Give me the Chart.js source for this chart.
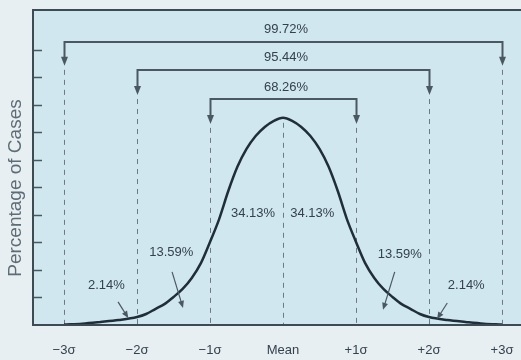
<!DOCTYPE html>
<html>
<head>
<meta charset="utf-8">
<script src="https://cdn.jsdelivr.net/npm/chart.js@4"></script>
<style>
  html, body { margin: 0; padding: 0; background: #e8eff3; }
  #wrap { width: 521px; height: 360px; }
</style>
</head>
<body>
<div id="wrap"><canvas id="myChart" width="521" height="360"></canvas></div>
<script>
// curve: position in sigma, height in tick units
const sigmaPos = [-3, -2.75, -2.5, -2.25, -2, -1.875, -1.75, -1.625, -1.5, -1.375, -1.25, -1.125,
  -1, -0.875, -0.75, -0.625, -0.5, -0.375, -0.25, -0.125, 0,
  0.125, 0.25, 0.375, 0.5, 0.625, 0.75, 0.875, 1,
  1.125, 1.25, 1.375, 1.5, 1.625, 1.75, 1.875, 2, 2.25, 2.5, 2.75, 3];
const curveHeight = [0.02, 0.05, 0.11, 0.18, 0.29, 0.40, 0.58, 0.76, 1.02, 1.31, 1.71, 2.25,
  3.02, 3.85, 4.87, 5.75, 6.40, 6.87, 7.20, 7.42, 7.53,
  7.42, 7.20, 6.87, 6.40, 5.75, 4.87, 3.85, 3.02,
  2.25, 1.71, 1.31, 1.02, 0.76, 0.58, 0.40, 0.29, 0.18, 0.11, 0.05, 0.02];

const tickValues = [-3, -2, -1, 0, 1, 2, 3];
const tickLabels = ["\u22123\u03c3", "\u22122\u03c3", "\u22121\u03c3", "Mean", "+1\u03c3", "+2\u03c3", "+3\u03c3"];
const yTickValues = [1, 2, 3, 4, 5, 6, 7, 8, 9, 10];

const rangeSigma = [3, 2, 1];
const rangeLabels = ["99.72%", "95.44%", "68.26%"];
const bandLabels = ["2.14%", "13.59%", "34.13%", "34.13%", "13.59%", "2.14%"];

// where the annotations sit (data units)
const rangeLayout = [
  { bar: 10.29, tip: 9.42, label: 10.76 },
  { bar: 9.27, tip: 8.36, label: 9.71 },
  { bar: 8.22, tip: 7.31, label: 8.65 },
];
const bandLayout = [
  { x: -2.42, y: 1.45, arrow: [-2.26, 0.84, -2.12, 0.25] },
  { x: -1.53, y: 2.62, arrow: [-1.52, 1.93, -1.37, 0.62] },
  { x: -0.41, y: 4.07 },
  { x: 0.40, y: 4.07 },
  { x: 1.60, y: 2.55, arrow: [1.53, 1.93, 1.37, 0.55] },
  { x: 2.51, y: 1.45, arrow: [2.25, 0.80, 2.11, 0.22] },
];

const FONT = '"Liberation Sans", Arial, sans-serif';
const INK = "#34424c";
const LINE = "#4a5862";

function arrowHead(ctx, x, y, angle, len, half) {
  ctx.save();
  ctx.translate(x, y);
  ctx.rotate(angle);
  ctx.beginPath();
  ctx.moveTo(0, 0);
  ctx.lineTo(-len, -half);
  ctx.lineTo(-len, half);
  ctx.closePath();
  ctx.fill();
  ctx.restore();
}

const annot = {
  id: "annot",
  beforeDraw(chart) {
    const { ctx, chartArea: a } = chart;
    ctx.save();
    ctx.fillStyle = "#d0e7f0";
    ctx.fillRect(a.left, a.top, chart.width - a.left, a.bottom - a.top);
    ctx.restore();
  },
  beforeDatasetsDraw(chart) {
    const { ctx, chartArea: a, scales } = chart;
    const xs = scales.x, ys = scales.y;
    ctx.save();
    // y ticks inside the frame
    ctx.strokeStyle = LINE;
    ctx.lineWidth = 1.5;
    yTickValues.forEach((v) => {
      const y = Math.round(ys.getPixelForValue(v)) + 0.5;
      ctx.beginPath();
      ctx.moveTo(a.left, y);
      ctx.lineTo(a.left + 9, y);
      ctx.stroke();
    });
    // dashed verticals
    ctx.strokeStyle = "#6b7b85";
    ctx.lineWidth = 1;
    ctx.setLineDash([5, 5]);
    rangeSigma.forEach((s, i) => {
      [-s, s].forEach((v) => {
        const x = Math.round(xs.getPixelForValue(v)) + 0.5;
        ctx.beginPath();
        ctx.moveTo(x, ys.getPixelForValue(rangeLayout[i].tip) + 4);
        ctx.lineTo(x, a.bottom);
        ctx.stroke();
      });
    });
    const mx = Math.round(xs.getPixelForValue(0)) + 0.5;
    ctx.beginPath();
    ctx.moveTo(mx, ys.getPixelForValue(7.35));
    ctx.lineTo(mx, a.bottom);
    ctx.stroke();
    ctx.restore();
  },
  afterDatasetsDraw(chart) {
    const { ctx, chartArea: a, scales } = chart;
    const xs = scales.x, ys = scales.y;
    ctx.save();
    // brackets
    ctx.strokeStyle = LINE;
    ctx.fillStyle = LINE;
    ctx.lineWidth = 2;
    rangeSigma.forEach((s, i) => {
      const L = rangeLayout[i];
      const x1 = Math.round(xs.getPixelForValue(-s)) + 0.5;
      const x2 = Math.round(xs.getPixelForValue(s)) + 0.5;
      const yb = Math.round(ys.getPixelForValue(L.bar));
      const yt = ys.getPixelForValue(L.tip);
      ctx.beginPath();
      ctx.moveTo(x1, yt - 7);
      ctx.lineTo(x1, yb);
      ctx.lineTo(x2, yb);
      ctx.lineTo(x2, yt - 7);
      ctx.stroke();
      arrowHead(ctx, x1, yt, Math.PI / 2, 9, 3.5);
      arrowHead(ctx, x2, yt, Math.PI / 2, 9, 3.5);
      ctx.font = "13px " + FONT;
      ctx.fillStyle = INK;
      ctx.textAlign = "center";
      ctx.textBaseline = "middle";
      ctx.fillText(rangeLabels[i], xs.getPixelForValue(0) + 3, ys.getPixelForValue(L.label));
      ctx.fillStyle = LINE;
    });
    // band labels and arrows
    bandLabels.forEach((t, i) => {
      const L = bandLayout[i];
      ctx.font = "13px " + FONT;
      ctx.fillStyle = INK;
      ctx.textAlign = "center";
      ctx.textBaseline = "middle";
      ctx.fillText(t, xs.getPixelForValue(L.x), ys.getPixelForValue(L.y));
      if (L.arrow) {
        const [ax, ay, bx, by] = L.arrow;
        const p1 = [xs.getPixelForValue(ax), ys.getPixelForValue(ay)];
        const p2 = [xs.getPixelForValue(bx), ys.getPixelForValue(by)];
        const ang = Math.atan2(p2[1] - p1[1], p2[0] - p1[0]);
        ctx.strokeStyle = LINE;
        ctx.fillStyle = LINE;
        ctx.lineWidth = 1.2;
        ctx.beginPath();
        ctx.moveTo(p1[0], p1[1]);
        ctx.lineTo(p2[0] - 5 * Math.cos(ang), p2[1] - 5 * Math.sin(ang));
        ctx.stroke();
        arrowHead(ctx, p2[0], p2[1], ang, 7, 3);
      }
    });
    // frame
    ctx.strokeStyle = "#3d4b55";
    ctx.lineWidth = 2;
    ctx.beginPath();
    ctx.moveTo(chart.width, a.top);
    ctx.lineTo(a.left, a.top);
    ctx.lineTo(a.left, a.bottom);
    ctx.lineTo(chart.width, a.bottom);
    ctx.stroke();
    // y title
    ctx.translate(16, 188);
    ctx.rotate(-Math.PI / 2);
    ctx.font = "19px " + FONT;
    ctx.fillStyle = "#5d6c75";
    ctx.textAlign = "center";
    ctx.textBaseline = "middle";
    ctx.fillText("Percentage of Cases", 0, 0);
    ctx.restore();
  },
};

const ctx = document.getElementById("myChart").getContext("2d");
const myChart = new Chart(ctx, {
  type: "line",
  data: {
    datasets: [
      {
        data: sigmaPos.map((s, i) => ({ x: s, y: curveHeight[i] })),
        borderColor: "#1f2e38",
        borderWidth: 2.5,
        pointRadius: 0,
        cubicInterpolationMode: "monotone",
        fill: false,
      },
    ],
  },
  options: {
    responsive: false,
    devicePixelRatio: 1,
    animation: false,
    layout: { padding: { top: 10, right: 0, left: 0, bottom: 0 } },
    plugins: { legend: { display: false }, tooltip: { enabled: false } },
    scales: {
      x: {
        type: "linear",
        min: -3.425,
        max: 3.26,
        grid: { display: false, drawTicks: false },
        border: { display: false },
        afterBuildTicks: (scale) => {
          scale.ticks = tickValues.map((v) => ({ value: v }));
        },
        afterFit: (scale) => {
          scale.height = 35;
          scale.paddingLeft = 0;
          scale.paddingRight = 0;
        },
        ticks: {
          autoSkip: false,
          maxRotation: 0,
          padding: 18,
          color: INK,
          font: { family: FONT, size: 13 },
          callback: (v) => tickLabels[tickValues.indexOf(v)],
        },
      },
      y: {
        min: 0,
        max: 11.45,
        grid: { display: false, drawTicks: false },
        border: { display: false },
        ticks: { display: false },
        afterFit: (scale) => {
          scale.width = 33;
        },
      },
    },
  },
  plugins: [annot],
});
</script>
</body>
</html>
